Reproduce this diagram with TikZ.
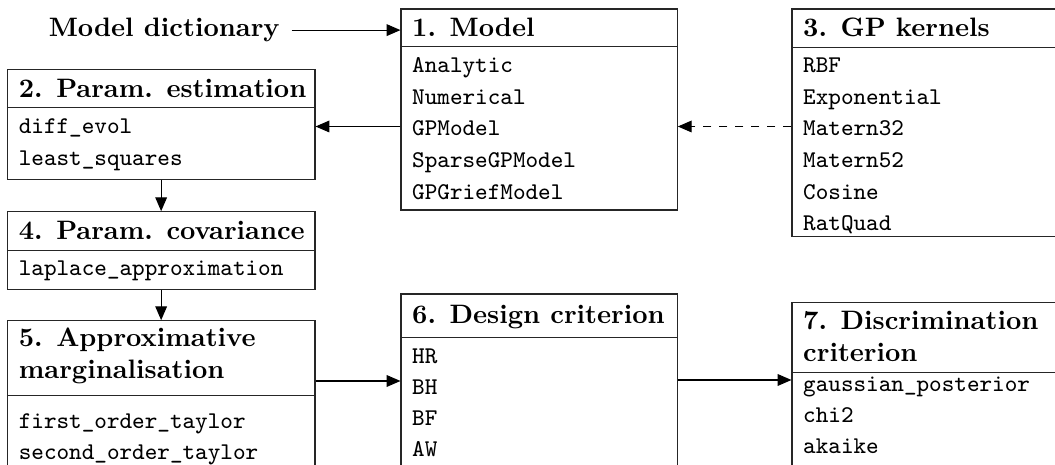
\documentclass[tikz,border=0pt]{standalone}
\usetikzlibrary{arrows.meta,fit,calc}
\begin{document}
\begin{tikzpicture}[x=0.375pt, y=-0.375pt,
  box/.style={draw=black!85, inner sep=0pt, line width=0.4pt},
  hdr/.style={draw=black!85, line width=0.4pt},
  ttl/.style={anchor=base west, inner sep=0pt, font=\bfseries\fontsize{10}{12}\selectfont},
  itm/.style={anchor=base west, inner sep=0pt, font=\ttfamily\fontsize{9}{11}\selectfont},
  arr/.style={-{Triangle[length=5.2pt,width=4.4pt]}, line width=0.4pt}]
\useasboundingbox (0,0) rectangle (1055,465);
\clip (0,0) rectangle (1055,465);

% 1. Model
\node[box, fit={(401,9) (677.3,210)}] (m) {};
\draw[hdr] ($(m.north west)+(0,38.3)$) -- ($(m.north east)+(0,38.3)$);
\node[ttl] (mt) at (411.7,36.7) {1. Model};
\node[itm] (m1) at (411.7,72.5) {Analytic};
\node[itm] (m2) at (411.7,104.1) {Numerical};
\node[itm] (m3) at (411.7,135.8) {GPModel};
\node[itm] (m4) at (411.7,167.4) {SparseGPModel};
\node[itm] (m5) at (411.7,199.1) {GPGriefModel};

% Model dictionary
\node[ttl] (md) at (48.3,36.7) {Model dictionary};

% 2. Param. estimation
\node[box, fit={(7.3,69.3) (315,179.3)}] (pe) {};
\draw[hdr] ($(pe.north west)+(0,39)$) -- ($(pe.north east)+(0,39)$);
\node[ttl] (pet) at (18.3,97.7) {2. Param. estimation};
\node[itm] (pe1) at (18.3,134) {diff\_evol};
\node[itm] (pe2) at (18.3,165.6) {least\_squares};

% 3. GP kernels
\node[box, fit={(792,9) (1100,236.7)}] (gp) {};
\draw[hdr] ($(gp.north west)+(0,38.7)$) -- ($(gp.north east)+(0,38.7)$);
\node[ttl] (gpt) at (802.7,36.5) {3. GP kernels};
\node[itm] (g1) at (802.7,72.7) {RBF};
\node[itm] (g2) at (802.7,104.3) {Exponential};
\node[itm] (g3) at (802.7,136) {Matern32};
\node[itm] (g4) at (802.7,167.6) {Matern52};
\node[itm] (g5) at (802.7,199.3) {Cosine};
\node[itm] (g6) at (802.7,230.9) {RatQuad};

% 4. Param. covariance
\node[box, fit={(7.3,211.7) (315,289.3)}] (pc) {};
\draw[hdr] ($(pc.north west)+(0,39.3)$) -- ($(pc.north east)+(0,39.3)$);
\node[ttl] (pct) at (18.3,239.5) {4. Param. covariance};
\node[itm] (pc1) at (18.3,276) {laplace\_approximation};

% 5. Approximative marginalisation
\node[box, fit={(7.3,320.7) (315,520)}] (am) {};
\draw[hdr] ($(am.north west)+(0,75.3)$) -- ($(am.north east)+(0,75.3)$);
\node[ttl] (amt1) at (18.3,346.7) {5. Approximative};
\node[ttl] (amt2) at (18.3,378.3) {marginalisation};
\node[itm] (am1) at (18.3,428.3) {first\_order\_taylor};
\node[itm] (am2) at (18.3,459.5) {second\_order\_taylor};

% 6. Design criterion
\node[box, fit={(401,294) (677.3,520)}] (dc) {};
\draw[hdr] ($(dc.north west)+(0,44.3)$) -- ($(dc.north east)+(0,44.3)$);
\node[ttl] (dct) at (411.7,323.3) {6. Design criterion};
\node[itm] (d1) at (411.7,364) {HR};
\node[itm] (d2) at (411.7,395) {BH};
\node[itm] (d3) at (411.7,426) {BF};
\node[itm] (d4) at (411.7,457) {AW};

% 7. Discrimination criterion
\node[box, fit={(792,302.7) (1100,520)}] (dm) {};
\draw[hdr] ($(dm.north west)+(0,70)$) -- ($(dm.north east)+(0,70)$);
\node[ttl] (dmt1) at (802.7,330) {7. Discrimination};
\node[ttl] (dmt2) at (802.7,361.7) {criterion};
\node[itm] (dm1) at (802.7,391.7) {gaussian\_posterior};
\node[itm] (dm2) at (802.7,422.5) {chi2};
\node[itm] (dm3) at (802.7,453.5) {akaike};

% connectors
\coordinate (ya) at (0,126.5);
\coordinate (yb) at (0,381);
\coordinate (yc) at (0,380);
\draw[arr] ([xshift=4.3pt]md.east) -- (m.west |- md.east);
\draw[arr] (m.west |- ya) -- (pe.east |- ya);
\draw[arr, dashed] (gp.west |- ya) -- (m.east |- ya);
\draw[arr] (pe.south) -- (pc.north);
\draw[arr] (pc.south) -- (am.north);
\draw[arr] (am.east |- yb) -- (dc.west |- yb);
\draw[arr] (dc.east |- yc) -- (dm.west |- yc);
\end{tikzpicture}
\end{document}
